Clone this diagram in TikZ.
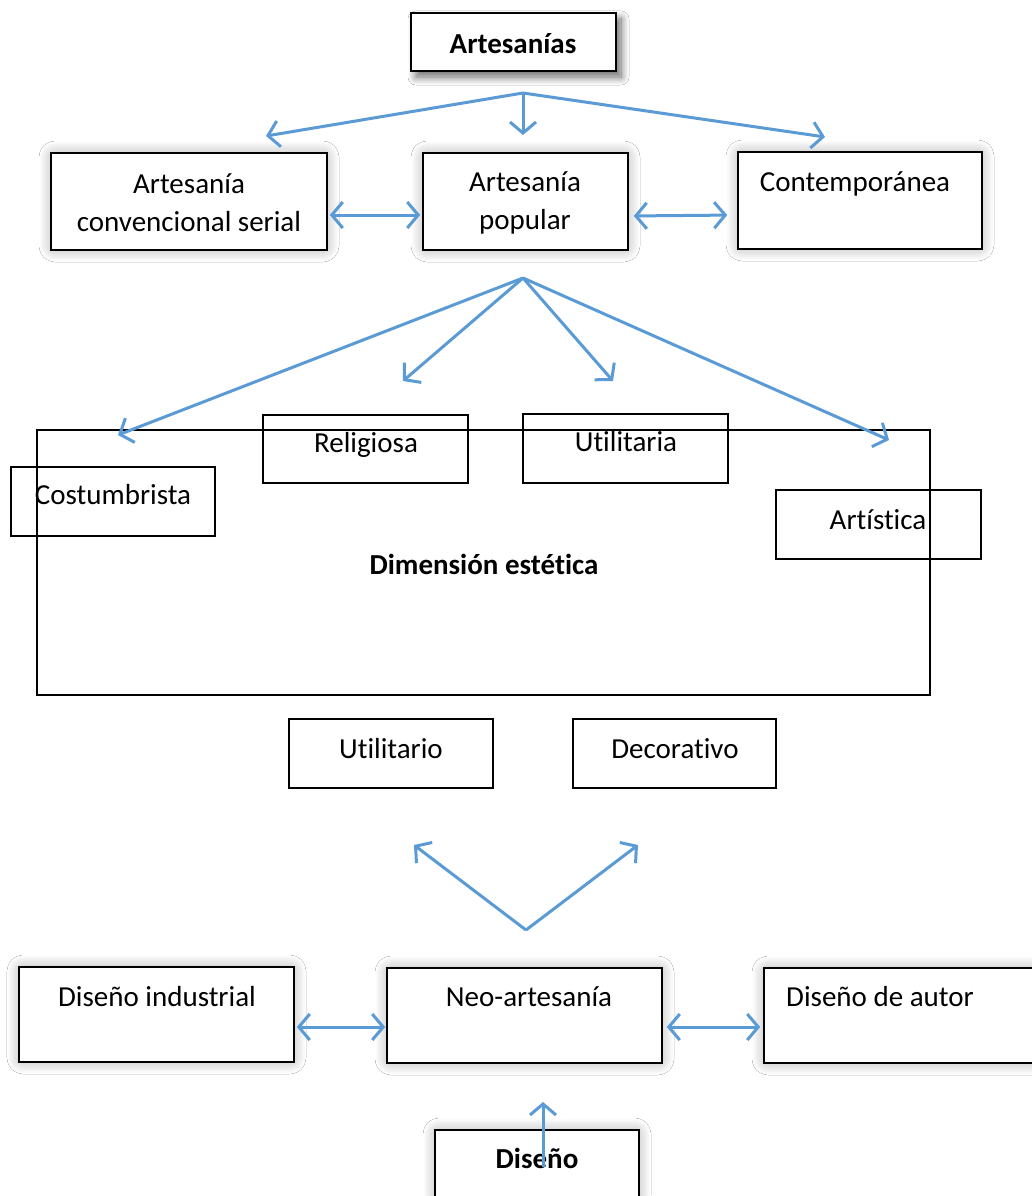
\documentclass[tikz,border=0pt]{standalone}
\usepackage{fontspec}
\setmainfont{Carlito}[RawFeature={-liga;-clig;-calt;-dlig}]
\usetikzlibrary{arrows.meta,shadows.blur}
\definecolor{arrowblue}{HTML}{5B9BD5}
\tikzset{
  box/.style={draw=black, line width=1.6pt, inner sep=0pt, rectangle},
  sbox/.style={box, fill=white, blur shadow={shadow xshift=0pt, shadow yshift=0pt, shadow blur radius=12pt, shadow blur steps=16, shadow opacity=32, shadow scale=1.0, shadow blur extra rounding=4pt}},
  dbox/.style={box, fill=white, blur shadow={shadow xshift=5pt, shadow yshift=-6pt, shadow blur radius=8pt, shadow blur steps=12, shadow opacity=60}},
  txt/.style={inner sep=0pt, font=\fontsize{29}{38}\selectfont, text height=0.65em, text depth=0pt, yshift=-6pt},
  txtm/.style={inner sep=0pt, font=\fontsize{29}{38}\selectfont, align=center},
  arr/.style={draw=arrowblue, line width=3pt, -{Straight Barb[length=11pt,width=26pt]}},
  darr/.style={draw=arrowblue, line width=3pt, {Straight Barb[length=11pt,width=26pt]}-{Straight Barb[length=11pt,width=26pt]}}
}
\begin{document}
\begin{tikzpicture}[x=1pt,y=-1pt]
\useasboundingbox (0,0) rectangle (1032,1196);
\fill[white] (0,0) rectangle (1032,1196);

% top level
\node[dbox, minimum width=205pt, minimum height=58pt] (art) at (513.5,42) {};
\node[txt] (tArt) at (513,44) {\bfseries Artesanías};

\node[sbox, minimum width=276pt, minimum height=97pt] (conv) at (189,201.5) {};
\node[txtm] (tConv) at (189,203) {Artesanía\\convencional serial};
\node[sbox, minimum width=205pt, minimum height=97pt] (pop) at (525.5,201.5) {};
\node[txtm] (tPop) at (525,203) {Artesanía\\popular};
\node[sbox, minimum width=244pt, minimum height=97pt] (cont) at (860,200.5) {};
\node[txt] (tCont) at (855,182) {Contemporánea};

% dimension box
\node[box, minimum width=893pt, minimum height=265pt] (dim) at (483.5,562.5) {};
\node[txt] (tDim) at (484,565) {\bfseries Dimensión estética};
\node[box, minimum width=204pt, minimum height=69pt] (cos) at (113,501.5) {};
\node[txt] (tCos) at (113,495) {Costumbrista};
\node[box, minimum width=205pt, minimum height=68pt] (rel) at (365.5,449) {};
\node[txt] (tRel) at (366,443) {Religiosa};
\node[box, minimum width=205pt, minimum height=69pt] (uta) at (625.5,448.5) {};
\node[txt] (tUta) at (626,442) {Utilitaria};
\node[box, minimum width=205pt, minimum height=69pt] (ars) at (878.5,524.5) {};
\node[txt] (tArs) at (878,520) {Artística};

\node[box, minimum width=204pt, minimum height=69pt] (uto) at (391,753.5) {};
\node[txt] (tUto) at (391,749) {Utilitario};
\node[box, minimum width=203pt, minimum height=69pt] (dec) at (674.5,753.5) {};
\node[txt] (tDec) at (675,749) {Decorativo};

% bottom level
\node[sbox, minimum width=275pt, minimum height=95pt] (ind) at (156.5,1014.5) {};
\node[txt] (tInd) at (157,997) {Diseño industrial};
\node[sbox, minimum width=275pt, minimum height=95pt] (neo) at (524.5,1015.5) {};
\node[txt] (tNeo) at (529,997) {Neo-artesanía};
\node[sbox, minimum width=276pt, minimum height=95pt] (aut) at (902,1015.5) {};
\node[txt] (tAut) at (880,997) {Diseño de autor};
\node[sbox, minimum width=204pt, minimum height=69pt] (dis) at (537,1164.5) {};
\node[txt] (tDis) at (537,1159) {\bfseries Diseño};

% coordinates
\coordinate (h1) at (523,93);
\coordinate (a1) at (266,136);
\coordinate (a2) at (523,135);
\coordinate (a3) at (825,137);
\coordinate (h2) at (523,278);
\coordinate (b1) at (118,435);
\coordinate (b2) at (403,381);
\coordinate (b3) at (613,381);
\coordinate (b4) at (889,440);
\coordinate (h3) at (526,930);
\coordinate (c1) at (414,845);
\coordinate (c2) at (638,845);
\coordinate (d0) at (543,1167);
\coordinate (d1) at (543,1102);

% arrows
\draw[arr] (h1) -- (a1);
\draw[arr] (h1) -- (a2);
\draw[arr] (h1) -- (a3);
\draw[darr, shorten <=2pt, shorten >=2pt] ([yshift=-13.5pt]conv.east) -- ([yshift=-13.5pt]pop.west);
\draw[darr, shorten <=5pt, shorten >=10pt] ([yshift=-14.5pt]pop.east) -- ([yshift=-14.5pt]cont.west);
\draw[arr] (h2) -- (b1);
\draw[arr] (h2) -- (b2);
\draw[arr] (h2) -- (b3);
\draw[arr] (h2) -- (b4);
\draw[arr] (h3) -- (c1);
\draw[arr] (h3) -- (c2);
\draw[darr, shorten <=2pt, shorten >=1pt] ([yshift=-12.5pt]ind.east) -- ([yshift=-11.5pt]neo.west);
\draw[darr, shorten <=4pt, shorten >=3pt] ([yshift=-11.5pt]neo.east) -- ([yshift=-11.5pt]aut.west);
\draw[arr] (d0) -- (d1);
\end{tikzpicture}
\end{document}
